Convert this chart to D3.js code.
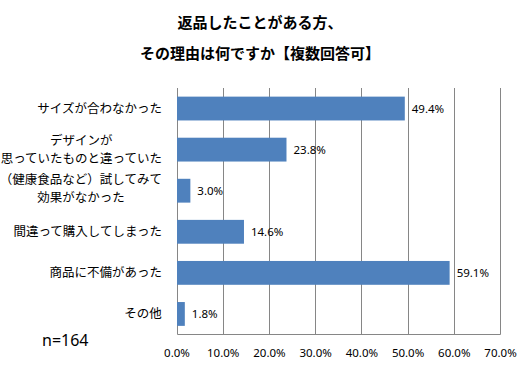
<!DOCTYPE html>
<html>
<head>
<meta charset="utf-8">
<script src="https://cdn.jsdelivr.net/npm/d3@7"></script>
<style>
  html, body { margin: 0; padding: 0; background: #fff; }
  svg { display: block; }
</style>
</head>
<body>
<svg id="chart" width="532" height="369"></svg>
<script>
const titleLines = ["返品したことがある方、", "その理由は何ですか【複数回答可】"];
const categories = [
  ["サイズが合わなかった"],
  ["デザインが", "思っていたものと違っていた"],
  ["（健康食品など）試してみて", "効果がなかった"],
  ["間違って購入してしまった"],
  ["商品に不備があった"],
  ["その他"]
];
const values = [49.4, 23.8, 3.0, 14.6, 59.1, 1.8];
const tickValues = [0, 10, 20, 30, 40, 50, 60, 70];
const sampleNote = "n=164";

const svg = d3.select("#chart");
const W = 532, H = 369;
const plot = { left: 176.5, right: 500, top: 88, bottom: 334.5 };
const jpFont = "'Noto Sans CJK JP', 'Noto Sans', sans-serif";
const numFont = "'Noto Sans', 'DejaVu Sans', sans-serif";

svg.append("rect").attr("width", W).attr("height", H).attr("fill", "#fff");

// Title
svg.append("g").selectAll("text").data(titleLines).join("text")
  .attr("x", 260)
  .attr("y", (d, i) => 28 + i * 31)
  .attr("text-anchor", "middle")
  .attr("font-family", jpFont)
  .attr("font-weight", "bold")
  .attr("font-size", 15)
  .attr("fill", "#000")
  .text(d => d);

const x = d3.scaleLinear().domain([0, 70]).range([plot.left, plot.right]);
const y = d3.scaleBand().domain(d3.range(categories.length))
  .range([plot.top, plot.bottom]).paddingInner(0.42).paddingOuter(0.21);

// Gridlines
svg.append("g").selectAll("line").data(tickValues).join("line")
  .attr("x1", d => Math.round(x(d)) + 0.5)
  .attr("x2", d => Math.round(x(d)) + 0.5)
  .attr("y1", plot.top)
  .attr("y2", plot.bottom)
  .attr("stroke", "#868686")
  .attr("stroke-width", 1);

// Bottom axis line
svg.append("line")
  .attr("x1", Math.round(x(0)) + 0.5).attr("x2", Math.round(x(70)) + 0.5)
  .attr("y1", plot.bottom).attr("y2", plot.bottom)
  .attr("stroke", "#868686");

// Bars
svg.append("g").selectAll("rect").data(values).join("rect")
  .attr("x", x(0) + 0.5)
  .attr("y", (d, i) => y(i))
  .attr("width", d => x(d) - x(0) - 0.5)
  .attr("height", y.bandwidth())
  .attr("fill", "#4F81BD");

// Value labels
svg.append("g").selectAll("text").data(values).join("text")
  .attr("x", d => x(d) + 7)
  .attr("y", (d, i) => y(i) + y.bandwidth() / 2)
  .attr("dy", "0.35em")
  .attr("font-family", numFont)
  .attr("font-size", 11.5)
  .attr("fill", "#000")
  .text(d => d.toFixed(1) + "%");

// Tick labels via axis
const axis = d3.axisBottom(x).tickValues(tickValues)
  .tickFormat(d => d.toFixed(1) + "%").tickSize(0).tickPadding(0);
const ax = svg.append("g").attr("transform", `translate(0,${plot.bottom + 14})`).call(axis);
ax.select(".domain").remove();
ax.selectAll("text")
  .attr("font-family", numFont)
  .attr("font-size", 11.5)
  .attr("fill", "#000");

// Category labels
const lineH = 18;
const catG = svg.append("g");
categories.forEach((lines, i) => {
  const cy = y(i) + y.bandwidth() / 2 - (i === 2 ? 2 : 0);
  const t = catG.append("text")
    .attr("font-family", jpFont)
    .attr("font-size", 12.5)
    .attr("text-anchor", "middle")
    .attr("fill", "#000");
  lines.forEach((ln, j) => {
    t.append("tspan")
      .attr("x", 0)
      .attr("y", cy + (j - (lines.length - 1) / 2) * lineH)
      .attr("dy", "0.35em")
      .text(ln);
  });
  const bb = t.node().getBBox();
  t.selectAll("tspan").attr("x", 162 - bb.width / 2);
});

// Sample size note
svg.append("text")
  .attr("x", 42).attr("y", 340)
  .attr("dy", "0.35em")
  .attr("font-family", numFont)
  .attr("font-size", 16)
  .attr("fill", "#000")
  .text(sampleNote);
</script>
</body>
</html>
